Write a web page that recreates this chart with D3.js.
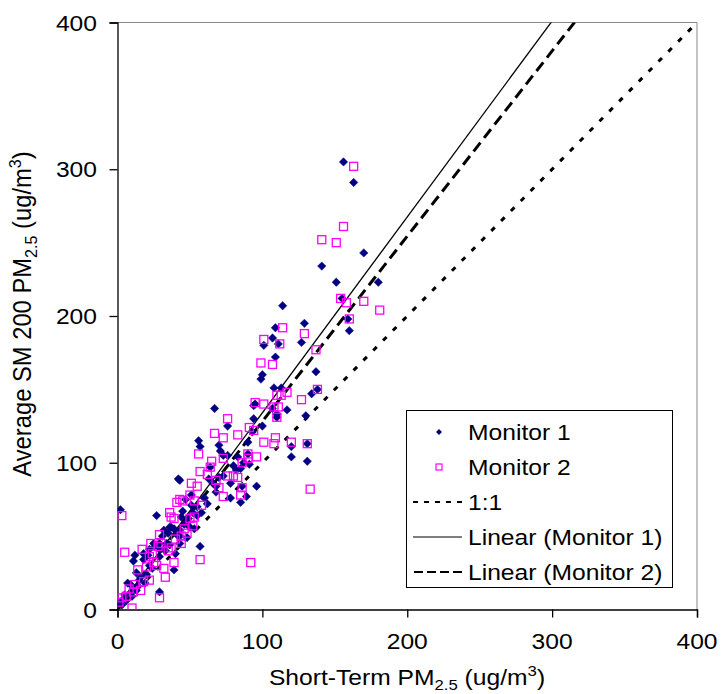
<!DOCTYPE html>
<html><head><meta charset="utf-8">
<script src="https://cdn.jsdelivr.net/npm/d3@7/dist/d3.min.js"></script>
<style>body{margin:0;background:#fff} text{font-family:"Liberation Sans",Arial,sans-serif;fill:#000}</style>
</head><body><svg id="c" width="721" height="694"></svg>
<script>
// ---- data ----
const monitor1 = [[156,305],[163,291],[170,243],[141,234],[151,223],[180,223],[114,207],[109,192],[129,195],[107,185],[127,182],[155,212],[160,190],[159,198],[111,181],[101,180],[109,172],[100,160],[99,157],[137,162],[108,151],[113,151],[134,147],[117,136],[110,133],[130,132],[67,137],[94,139],[94,130],[76,125],[100,125],[90,114],[56,115],[57,111],[70,112],[71,108],[120,111],[131,113],[120,104],[131,101],[83,104],[90,106],[91,99],[82,95],[85,96],[64,97],[73,91],[78,86],[68,80],[43,88],[96,84],[86,84],[89,77],[138,150],[95,140],[107,137],[110,131],[93,121],[87,100],[85,73],[78,76],[42,89],[2,68],[27,64],[37,56],[39,55],[31,50],[57,43],[11,33],[12,37],[25,45],[18,34],[39,27],[29,12],[13,25],[13,13],[4,7],[43,45],[48,59],[44,63],[52,66],[51,78],[47,75],[55,70],[36,56],[29,41],[21,37],[22,30],[7,18],[9,11],[1,4],[14,16],[48,49],[40,38],[73,105],[76,105],[63,89],[68,84],[32,54],[51,71],[49,62],[53,55],[45,67],[43,50],[35,52],[22,41],[18,38],[29,36],[19,18],[9,17],[5,10],[50,56],[55,64],[43,54],[41,51],[29,45],[34,45],[26,43],[3,3],[6,6],[10,9],[15,20],[24,28],[33,40],[36,44],[60,76],[62,72],[46,58],[16,22],[20,24],[58,66],[66,86],[70,90],[80,98]];
const monitor2 = [[163,302],[156,261],[141,252],[151,250],[154,212],[158,209],[170,210],[181,204],[160,198],[114,192],[129,188],[112,181],[137,177],[101,184],[99,168],[107,167],[138,150],[117,148],[110,146],[113,146],[127,143],[95,141],[101,140],[108,138],[111,138],[110,131],[76,130],[91,124],[67,120],[73,117],[83,119],[101,114],[109,117],[108,113],[120,114],[94,122],[131,113],[56,106],[65,101],[64,97],[73,103],[90,106],[90,103],[96,104],[86,100],[57,94],[62,92],[76,91],[80,91],[83,90],[68,88],[51,86],[70,83],[86,83],[133,82],[50,78],[73,77],[85,78],[55,84],[92,32],[43,75],[41,73],[45,74],[58,71],[53,74],[53,63],[50,62],[52,57],[48,52],[44,50],[44,45],[37,63],[36,66],[39,62],[37,42],[29,51],[30,45],[28,43],[23,45],[24,38],[17,41],[22,36],[39,32],[32,28],[33,22],[20,29],[14,27],[22,20],[5,39],[3,64],[29,8],[10,1],[11,12],[6,9],[3,8],[16,13],[18,19],[57,34],[1,5],[8,14],[12,17],[25,32],[27,30],[35,40],[40,48],[46,55]];
const axisTicks = [0,100,200,300,400];
const fit1 = {slope:1.335, intercept:0.5};
const fit2 = {slope:1.262, intercept:2};
const legendLabels = ["Monitor 1","Monitor 2","1:1","Linear (Monitor 1)","Linear (Monitor 2)"];

// ---- layout ----
const svg = d3.select("#c");
const x = d3.scaleLinear().domain([0,400]).range([117.5,697]);
const y = d3.scaleLinear().domain([0,400]).range([609.5,22.5]);
const FS = 22, SX = 1.12;
const navy = "#000080", mag = "#FF00FF";

svg.append("defs").append("clipPath").attr("id","clip")
  .append("rect").attr("x",x(0)).attr("y",y(400)).attr("width",x(400)-x(0)).attr("height",y(0)-y(400));

// plot border (top/right gray)
svg.append("path").attr("d",`M${x(0)},${y(400)}H${x(400)}V${y(0)}`).attr("fill","none").attr("stroke","#888").attr("stroke-width",1);

// axes
const xa = svg.append("g").attr("transform",`translate(0,${y(0)})`)
  .call(d3.axisBottom(x).tickValues(axisTicks).tickSize(8).tickFormat(""));
const ya = svg.append("g").attr("transform",`translate(${x(0)},0)`)
  .call(d3.axisLeft(y).tickValues(axisTicks).tickSize(8).tickFormat(""));
[xa,ya].forEach(a=>{a.selectAll("path").attr("stroke","#000").attr("stroke-width",1.3);a.selectAll("line").attr("stroke","#000").attr("stroke-width",1.3);});

function stretchText(tx,ty,anchor,parts,rot){
  const g = svg.append("g").attr("transform", rot ? `translate(${tx},${ty}) rotate(-90) scale(1.08,1.15)` : `translate(${tx},${ty}) scale(${SX},1)`);
  const t = g.append("text").attr("font-size",FS).attr("text-anchor",anchor);
  let shift = 0;
  parts.forEach(([s,k])=>{
    const target = k==="sub"?5:(k==="sup"?-9:0);
    const sp = t.append("tspan").text(s).attr("dy",target-shift);
    if(k) sp.attr("font-size",FS*0.68);
    shift = target;
  });
  return g;
}
axisTicks.forEach(v=>{
  stretchText(97,y(v)+8,"end",[[String(v)]]);
  stretchText(x(v),649,"middle",[[String(v)]]);
});
stretchText(407,685,"middle",[["Short-Term PM"],["2.5","sub"],[" (ug/m"],["3","sup"],[")"]]);
stretchText(31,314,"middle",[["Average SM 200 PM"],["2.5","sub"],[" (ug/m"],["3","sup"],[")"]],true);

// lines
const plot = svg.append("g").attr("clip-path","url(#clip)");
const line = d3.line().x(d=>x(d[0])).y(d=>y(d[1]));
const dom = [0,400];
plot.append("path").attr("d",line(dom.map(v=>[v,v]))).attr("fill","none").attr("stroke","#000").attr("stroke-width",3).attr("stroke-dasharray","5,9");
plot.append("path").attr("d",line(dom.map(v=>[v,fit1.intercept+fit1.slope*v]))).attr("fill","none").attr("stroke","#000").attr("stroke-width",1.3);
plot.append("path").attr("d",line(dom.map(v=>[v,fit2.intercept+fit2.slope*v]))).attr("fill","none").attr("stroke","#000").attr("stroke-width",3).attr("stroke-dasharray","11,6");

// markers
const diamond = "M0,-4.2L4.2,0L0,4.2L-4.2,0Z";
plot.selectAll(".m1").data(monitor1).join("path").attr("class","m1")
  .attr("d",diamond).attr("transform",d=>`translate(${x(d[0])},${y(d[1])})`).attr("fill",navy).attr("stroke",navy).attr("stroke-width",0.5);
plot.selectAll(".m2").data(monitor2).join("rect").attr("class","m2")
  .attr("x",d=>x(d[0])-4).attr("y",d=>y(d[1])-4).attr("width",8).attr("height",8)
  .attr("fill","none").attr("stroke",mag).attr("stroke-width",1.3);

// legend
const lg = svg.append("g");
lg.append("rect").attr("x",406.5).attr("y",410.5).attr("width",266).attr("height",177).attr("fill","#fff").attr("stroke","#000").attr("stroke-width",1);
const rowY = i => 432 + i*35;
legendLabels.forEach((lab,i)=>{
  stretchText(468,rowY(i)+8,"start",[[lab]]);
});
lg.append("path").attr("d","M0,-3L3,0L0,3L-3,0Z").attr("transform",`translate(439,${rowY(0)})`).attr("fill",navy);
lg.append("rect").attr("x",436).attr("y",rowY(1)-3).attr("width",6).attr("height",6).attr("fill","none").attr("stroke",mag).attr("stroke-width",1.2);
lg.append("line").attr("x1",413).attr("x2",462).attr("y1",rowY(2)).attr("y2",rowY(2)).attr("stroke","#000").attr("stroke-width",2).attr("stroke-dasharray","5,6");
lg.append("line").attr("x1",413).attr("x2",462).attr("y1",rowY(3)).attr("y2",rowY(3)).attr("stroke","#000").attr("stroke-width",1.2);
lg.append("line").attr("x1",414).attr("x2",462).attr("y1",rowY(4)).attr("y2",rowY(4)).attr("stroke","#000").attr("stroke-width",2).attr("stroke-dasharray","9,4");
</script></body></html>
